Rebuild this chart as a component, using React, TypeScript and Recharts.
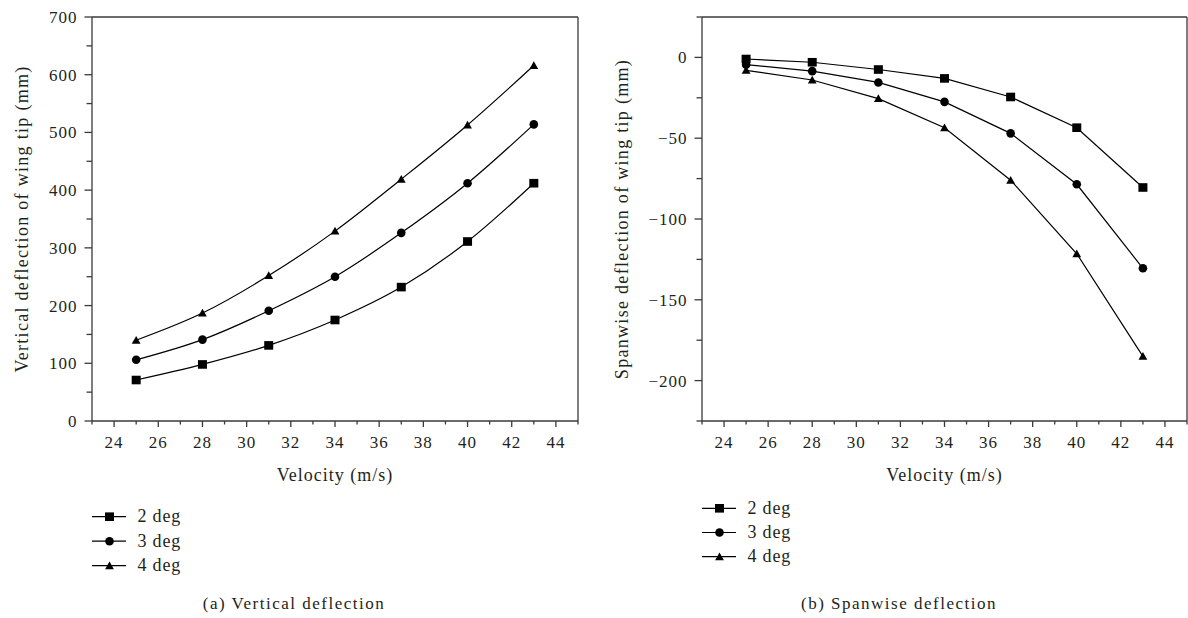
import React from 'react';
import { LineChart, Line, XAxis, YAxis, ReferenceLine } from 'recharts';

// ---------------- data ----------------
const velocities = [25, 28, 31, 34, 37, 40, 43];

const seriesNames = ['2 deg', '3 deg', '4 deg'];
const seriesKeys = ['s2', 's3', 's4'];
const markerShapes = ['square', 'circle', 'triangle'];

const vertical2deg = [71, 98, 131, 175, 232, 311, 412];
const vertical3deg = [106, 141, 191, 250, 326, 412, 514];
const vertical4deg = [140, 187, 252, 329, 419, 513, 616];

const spanwise2deg = [-1, -3, -7.5, -13, -24.5, -43.5, -80.5];
const spanwise3deg = [-4.5, -8.5, -15.5, -27.5, -47, -78.5, -130.5];
const spanwise4deg = [-8, -14, -25.5, -43.5, -76, -121.5, -185];

const xTicks = [23, 24, 25, 26, 27, 28, 29, 30, 31, 32, 33, 34, 35, 36, 37, 38, 39, 40, 41, 42, 43, 44, 45];
const xLabelTicks = [24, 26, 28, 30, 32, 34, 36, 38, 40, 42, 44];

const verticalTicks = [0, 50, 100, 150, 200, 250, 300, 350, 400, 450, 500, 550, 600, 650, 700];
const verticalLabelTicks = [0, 100, 200, 300, 400, 500, 600, 700];

const spanwiseTicks = [-225, -200, -175, -150, -125, -100, -75, -50, -25, 0, 25];
const spanwiseLabelTicks = [-200, -150, -100, -50, 0];

const xAxisTitle = 'Velocity (m/s)';
const verticalTitle = 'Vertical deflection of wing tip (mm)';
const spanwiseTitle = 'Spanwise deflection of wing tip (mm)';
const captionA = '(a) Vertical deflection';
const captionB = '(b) Spanwise deflection';

const verticalData = velocities.map((v, i) => ({ v, s2: vertical2deg[i], s3: vertical3deg[i], s4: vertical4deg[i] }));
const spanwiseData = velocities.map((v, i) => ({ v, s2: spanwise2deg[i], s3: spanwise3deg[i], s4: spanwise4deg[i] }));

// ---------------- style ----------------
const FONT = "'Liberation Serif', 'Times New Roman', serif";
const TEXT = '#231f20';
const AXIS = '#3a3a3a';
const LINE = '#000000';

const Marker = ({ shape, cx, cy }: { shape: string; cx: number; cy: number }) => {
  if (cx == null || cy == null) return null;
  if (shape === 'square') {
    return <rect x={cx - 4.5} y={cy - 4.3} width={9} height={8.6} fill={LINE} />;
  }
  if (shape === 'circle') {
    return <circle cx={cx} cy={cy} r={4.3} fill={LINE} />;
  }
  return <path d={`M${cx},${cy - 4.3} L${cx + 4.4},${cy + 3.5} L${cx - 4.4},${cy + 3.5} Z`} fill={LINE} />;
};

const minus = (n: number) => String(n).replace('-', '\u2212');

const makeXTick = () => (props: any) => {
  const { x, y, payload } = props;
  const v = payload.value;
  const major = xLabelTicks.includes(v);
  return (
    <g>
      <line x1={x} x2={x} y1={y} y2={y + (major ? 6 : 3.5)} stroke={AXIS} strokeWidth={1.3} />
      {major && (
        <text x={x} y={y + 27} textAnchor="middle" fontSize={17} fill={TEXT} style={{ letterSpacing: 1, fontFamily: FONT }}>
          {v}
        </text>
      )}
    </g>
  );
};

const makeYTick = (labels: number[]) => (props: any) => {
  const { x, y, payload } = props;
  const v = payload.value;
  const major = labels.includes(v);
  return (
    <g>
      <line x1={x} x2={x - (major ? 7.5 : 5.5)} y1={y} y2={y} stroke={AXIS} strokeWidth={1.3} />
      {major && (
        <text x={x - 14.5} y={y} dy="0.35em" textAnchor="end" fontSize={17} fill={TEXT} style={{ letterSpacing: 1, fontFamily: FONT }}>
          {minus(v)}
        </text>
      )}
    </g>
  );
};

type PanelProps = {
  left: number;
  width: number;
  yWidth: number;
  marginRight: number;
  data: any[];
  yDomain: [number, number];
  yTicks: number[];
  yLabels: number[];
  yTitle: string;
  curve: 'monotone' | 'linear';
};

const Panel = ({ left, width, yWidth, marginRight, data, yDomain, yTicks, yLabels, yTitle, curve }: PanelProps) => (
  <div style={{ position: 'absolute', left, top: 0 }}>
    <LineChart width={width} height={500} data={data} margin={{ top: 17, right: marginRight, bottom: 19, left: 0 }}>
      <XAxis
        dataKey="v"
        type="number"
        domain={[23, 45]}
        ticks={xTicks}
        interval={0}
        tickSize={0}
        tickMargin={0}
        tickLine={false}
        tick={makeXTick()}
        height={60}
        axisLine={{ stroke: AXIS, strokeWidth: 1.3 }}
        label={{
          value: xAxisTitle,
          position: 'insideBottom',
          offset: 0,
          style: { fontSize: 18, fill: TEXT, letterSpacing: 1, fontFamily: FONT },
        }}
      />
      <YAxis
        type="number"
        domain={yDomain}
        ticks={yTicks}
        interval={0}
        tickSize={0}
        tickMargin={0}
        tickLine={false}
        tick={makeYTick(yLabels)}
        width={yWidth}
        axisLine={{ stroke: AXIS, strokeWidth: 1.3 }}
        label={{
          value: yTitle,
          angle: -90,
          position: 'insideLeft',
          offset: 22,
          style: { fontSize: 18, fill: TEXT, letterSpacing: 1.3, fontFamily: FONT, textAnchor: 'middle' },
        }}
      />
      <ReferenceLine y={yDomain[1]} stroke={AXIS} strokeWidth={1.3} />
      <ReferenceLine x={45} stroke={AXIS} strokeWidth={1.3} />
      {seriesKeys.map((k, i) => (
        <Line
          key={k}
          dataKey={k}
          name={seriesNames[i]}
          type={curve}
          stroke={LINE}
          strokeWidth={1.2}
          isAnimationActive={false}
          dot={(p: any) => <Marker key={`${k}-${p.index}`} shape={markerShapes[i]} cx={p.cx} cy={p.cy} />}
          activeDot={false}
        />
      ))}
    </LineChart>
  </div>
);

const LegendBlock = ({ x, y, gap }: { x: number; y: number; gap: number }) => (
  <g>
    {seriesNames.map((n, i) => {
      const yy = y + i * gap;
      return (
        <g key={n}>
          <line x1={x} x2={x + 34} y1={yy} y2={yy} stroke={LINE} strokeWidth={1.2} />
          <Marker shape={markerShapes[i]} cx={x + 17.5} cy={yy} />
          <text x={x + 45.5} y={yy + 5.6} fontSize={18} fill={TEXT} style={{ letterSpacing: 0.8, fontFamily: FONT }}>
            {n}
          </text>
        </g>
      );
    })}
  </g>
);

export default function App() {
  return (
    <div style={{ position: 'absolute', left: 0, top: 0, width: 1188, height: 618, background: '#fff', fontFamily: FONT }}>
      <Panel
        left={0}
        width={600}
        yWidth={92}
        marginRight={22}
        data={verticalData}
        yDomain={[0, 700]}
        yTicks={verticalTicks}
        yLabels={verticalLabelTicks}
        yTitle={verticalTitle}
        curve="monotone"
      />
      <Panel
        left={600}
        width={588}
        yWidth={102}
        marginRight={1}
        data={spanwiseData}
        yDomain={[-225, 25]}
        yTicks={spanwiseTicks}
        yLabels={spanwiseLabelTicks}
        yTitle={spanwiseTitle}
        curve="linear"
      />
      <svg width={1188} height={618} style={{ position: 'absolute', left: 0, top: 0, pointerEvents: 'none' }}>
        <LegendBlock x={92} y={516.7} gap={24.5} />
        <LegendBlock x={702} y={508.3} gap={24.2} />
        <text x={294} y={609} textAnchor="middle" fontSize={17} fill={TEXT} style={{ letterSpacing: 1.5, fontFamily: FONT }}>
          {captionA}
        </text>
        <text x={899} y={609} textAnchor="middle" fontSize={17} fill={TEXT} style={{ letterSpacing: 1.5, fontFamily: FONT }}>
          {captionB}
        </text>
      </svg>
    </div>
  );
}
